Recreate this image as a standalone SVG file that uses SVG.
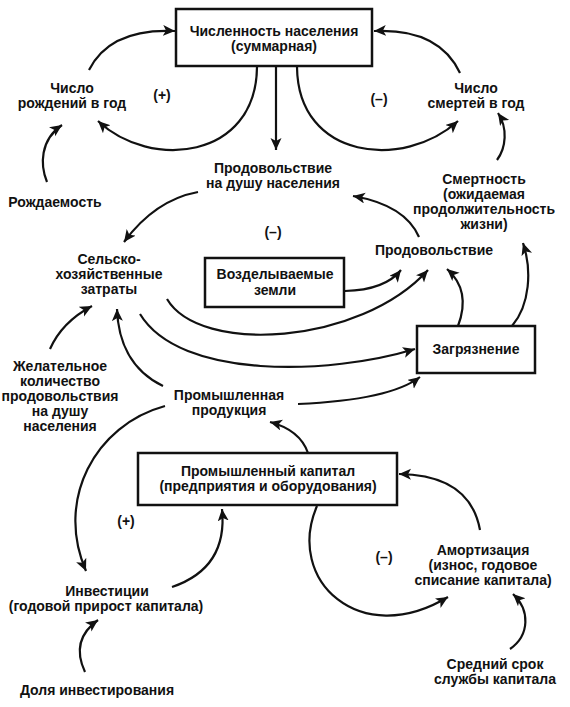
<svg xmlns="http://www.w3.org/2000/svg" width="570" height="707" viewBox="0 0 570 707">
<defs>
<style>
text{font-family:"Liberation Sans",Arial,sans-serif;font-weight:bold;font-size:14px;fill:#111;text-anchor:middle}
.box{fill:#fff;stroke:#111;stroke-width:2.5}
.c{fill:none;stroke:#111;stroke-width:2.2;marker-end:url(#ah)}
</style>
<marker id="ah" markerUnits="userSpaceOnUse" markerWidth="14" markerHeight="12" refX="12" refY="5.5" orient="auto">
<path d="M0,0 L12,5.5 L0,11 L3,5.5 z" fill="#111"/>
</marker>
</defs>
<rect width="570" height="707" fill="#fff"/>
<g id="connectors">
<path class="c" d="M89,70 Q110,28 175,31"/>
<path class="c" d="M257,67 C256,160 150,170 98,121"/>
<path class="c" d="M297,67 C298,160 404,170 458,121"/>
<path class="c" d="M460,73 Q439,28 374,31"/>
<path class="c" d="M276,67 L276,150"/>
<path class="c" d="M47,182 C40,165 40,140 62,125"/>
<path class="c" d="M497,160 C506,148 508,128 498,113"/>
<path class="c" d="M198,192 Q155,200 124,242"/>
<path class="c" d="M419,237 Q405,205 353,196"/>
<path class="c" d="M345,291 Q385,290 401,270"/>
<path class="c" d="M167,299 C200,355 360,345 428,270"/>
<path class="c" d="M140,314 C180,380 330,375 415,349"/>
<path class="c" d="M458,326 C466,305 465,285 447,269"/>
<path class="c" d="M512,326 C530,305 532,270 523,243"/>
<path class="c" d="M50,349 Q62,322 92,306"/>
<path class="c" d="M163,386 C130,370 118,340 117,309"/>
<path class="c" d="M298,404 Q390,400 420,377"/>
<path class="c" d="M308,453 Q300,430 270,422"/>
<path class="c" d="M165,406 C95,425 55,500 86,571"/>
<path class="c" d="M172,587 Q228,568 222,509"/>
<path class="c" d="M85,672 Q70,640 98,620"/>
<path class="c" d="M317,506 C285,580 360,650 448,597"/>
<path class="c" d="M480,530 Q470,475 399,474"/>
<path class="c" d="M510,649 C530,635 530,610 513,594"/>
</g>
<g id="population">
<rect class="box" x="176" y="9" width="196" height="57"/>
<text x="274" y="36">Численность населения</text>
<text x="274" y="51">(суммарная)</text>
</g>
<g id="births"><text x="72" y="93">Число</text><text x="72" y="108">рождений в год</text></g>
<g id="deaths"><text x="476" y="93">Число</text><text x="476" y="108">смертей в год</text></g>
<g id="fertility"><text x="55" y="207">Рождаемость</text></g>
<g id="mortality"><text x="484" y="184">Смертность</text><text x="484" y="199">(ожидаемая</text><text x="484" y="214">продолжительность</text><text x="484" y="229">жизни)</text></g>
<g id="food-per-capita"><text x="273" y="173">Продовольствие</text><text x="273" y="188">на душу населения</text></g>
<g id="agri-inputs"><text x="109" y="264">Сельско-</text><text x="109" y="279">хозяйственные</text><text x="109" y="294">затраты</text></g>
<g id="land">
<rect class="box" x="205" y="258" width="139" height="49"/>
<text x="275" y="279">Возделываемые</text>
<text x="275" y="295">земли</text>
</g>
<g id="food"><text x="434" y="255">Продовольствие</text></g>
<g id="pollution">
<rect class="box" x="417" y="326" width="118" height="47"/>
<text x="476" y="354">Загрязнение</text>
</g>
<g id="desired-food"><text x="60" y="371">Желательное</text><text x="60" y="386">количество</text><text x="60" y="401">продовольствия</text><text x="60" y="416">на душу</text><text x="60" y="431">населения</text></g>
<g id="industrial-output"><text x="229" y="400">Промышленная</text><text x="229" y="415">продукция</text></g>
<g id="capital">
<rect class="box" x="138" y="453" width="259" height="52"/>
<text x="268" y="476">Промышленный капитал</text>
<text x="268" y="491">(предприятия и оборудования)</text>
</g>
<g id="investment"><text x="107" y="596">Инвестиции</text><text x="106" y="611">(годовой прирост капитала)</text></g>
<g id="invest-share"><text x="97" y="695">Доля инвестирования</text></g>
<g id="depreciation"><text x="483" y="555">Амортизация</text><text x="483" y="570">(износ, годовое</text><text x="483" y="585">списание капитала)</text></g>
<g id="lifetime"><text x="495" y="669">Средний срок</text><text x="495" y="684">службы капитала</text></g>
<g id="loop-signs">
<text x="162" y="100">(+)</text>
<text x="379" y="104">(–)</text>
<text x="273" y="237">(–)</text>
<text x="126" y="526">(+)</text>
<text x="384" y="562">(–)</text>
</g>
</svg>
